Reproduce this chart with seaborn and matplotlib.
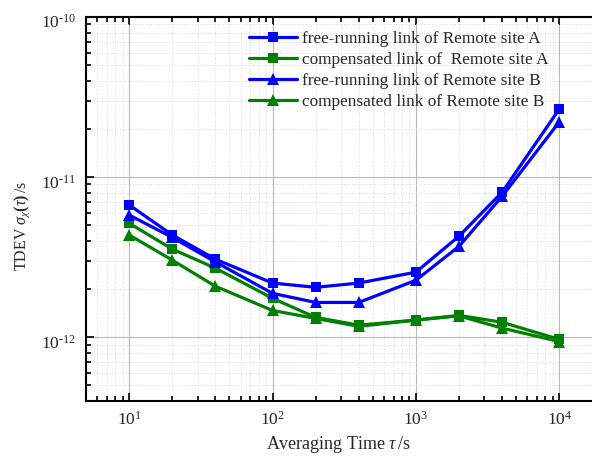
import numpy as np
import pandas as pd
import seaborn as sns
import matplotlib
matplotlib.use("Agg")
import matplotlib.pyplot as plt
import matplotlib.transforms as mtransforms
from matplotlib.ticker import LogLocator, NullFormatter, FuncFormatter

# averaging time tau (s)
tau = [10, 20, 40, 100, 200, 400, 1000, 2000, 4000, 10000]

# TDEV values (s)
free_A = [6.7e-12, 4.35e-12, 3.07e-12, 2.18e-12, 2.05e-12, 2.18e-12, 2.55e-12, 4.28e-12, 8.06e-12, 2.66e-11]
comp_A = [5.15e-12, 3.55e-12, 2.7e-12, 1.75e-12, 1.33e-12, 1.19e-12, 1.28e-12, 1.37e-12, 1.24e-12, 9.7e-13]
free_B = [5.8e-12, 4.2e-12, 2.95e-12, 1.88e-12, 1.65e-12, 1.65e-12, 2.27e-12, 3.7e-12, 7.6e-12, 2.21e-11]
comp_B = [4.35e-12, 3.03e-12, 2.08e-12, 1.47e-12, 1.31e-12, 1.17e-12, 1.28e-12, 1.36e-12, 1.14e-12, 9.4e-13]

labels = ["free-running link of Remote site A",
          "compensated link of  Remote site A",
          "free-running link of Remote site B",
          "compensated link of Remote site B"]

blue = "#0000ff"
green = "#008000"

frames = []
for lab, vals in zip(labels, [free_A, comp_A, free_B, comp_B]):
    frames.append(pd.DataFrame({"tau": tau, "tdev": vals, "series": lab}))
df = pd.concat(frames, ignore_index=True)

sns.set_style("ticks")
plt.rcParams['font.family'] = ['Liberation Serif', 'DejaVu Serif']
plt.rcParams['mathtext.fontset'] = 'custom'
plt.rcParams['mathtext.rm'] = 'Liberation Serif'
plt.rcParams['mathtext.it'] = 'Liberation Serif:italic'
plt.rcParams['mathtext.bf'] = 'Liberation Serif:bold'

fig = plt.figure(figsize=(5.92, 4.59), dpi=100)
# the plot frame runs past the right edge of the picture, as in the original
ax = fig.add_axes([0.1453, 0.1264, 0.9046, 0.8366])

palette = {labels[0]: blue, labels[1]: green, labels[2]: blue, labels[3]: green}
markers = {labels[0]: "s", labels[1]: "s", labels[2]: "^", labels[3]: "^"}

sns.lineplot(data=df, x="tau", y="tdev", hue="series", style="series",
             hue_order=labels, style_order=labels,
             palette=palette, markers=markers, dashes=False,
             markersize=8, markeredgewidth=0, linewidth=2.3, ax=ax)

# squares a bit smaller than the triangles
for ln in ax.lines:
    if ln.get_marker() == "s":
        ln.set_markersize(7)

ax.set_xscale("log")
ax.set_yscale("log")
ax.set_xlim(5, 2.72e4)
ax.set_ylim(4e-13, 1e-10)


def pow_fmt(v, pos):
    n = int(round(np.log10(v)))
    return "$10^{%s}$" % str(n).replace("-", "\u2010")


ax.xaxis.set_major_locator(LogLocator(base=10, numticks=10))
ax.xaxis.set_minor_locator(LogLocator(base=10, subs=np.arange(2, 10), numticks=10))
ax.yaxis.set_major_locator(LogLocator(base=10, numticks=10))
ax.yaxis.set_minor_locator(LogLocator(base=10, subs=np.arange(2, 10), numticks=10))
ax.xaxis.set_major_formatter(FuncFormatter(pow_fmt))
ax.yaxis.set_major_formatter(FuncFormatter(pow_fmt))
ax.xaxis.set_minor_formatter(NullFormatter())
ax.yaxis.set_minor_formatter(NullFormatter())

ax.grid(which="major", color="#b8b8b8", linewidth=0.8, linestyle="-")
ax.grid(which="minor", color="#dcdcdc", linewidth=0.7, linestyle=":")
ax.set_axisbelow(True)

ax.tick_params(which="both", direction="in", top=True, right=False,
               labelsize=12.5, width=1.2, color="black")
ax.tick_params(which="major", length=6, pad=7)
ax.tick_params(which="minor", length=3.5)
for s in ax.spines.values():
    s.set_linewidth(1.5)
    s.set_color("black")
ax.spines["right"].set_visible(False)

ax.set_xlabel(r"Averaging Time $\tau\,$/s", fontsize=13)
ax.set_ylabel(r"TDEV $\sigma_{\chi}\mathbf{(}\tau\mathbf{)}\,$/s", fontsize=11.5)
ax.yaxis.set_label_coords(-0.1, 0.455)
ax.xaxis.set_label_coords(0.471, -0.085)

handles, labs = ax.get_legend_handles_labels()
ax.legend(handles, labs, loc="upper left", bbox_to_anchor=(240 / 592, 1 - 22 / 459),
          bbox_transform=fig.transFigure, frameon=False, fontsize=12.4,
          handlelength=2.8, handletextpad=0.3, labelspacing=0.3, borderpad=0)

# nudge the y tick labels down a little so the top one stays inside the picture
fig.canvas.draw()
shift = mtransforms.ScaledTranslation(0, -3 / 72, fig.dpi_scale_trans)
for tick in ax.yaxis.get_major_ticks():
    tick.label1.set_transform(tick.label1.get_transform() + shift)

fig.savefig("out.png", dpi=100)
